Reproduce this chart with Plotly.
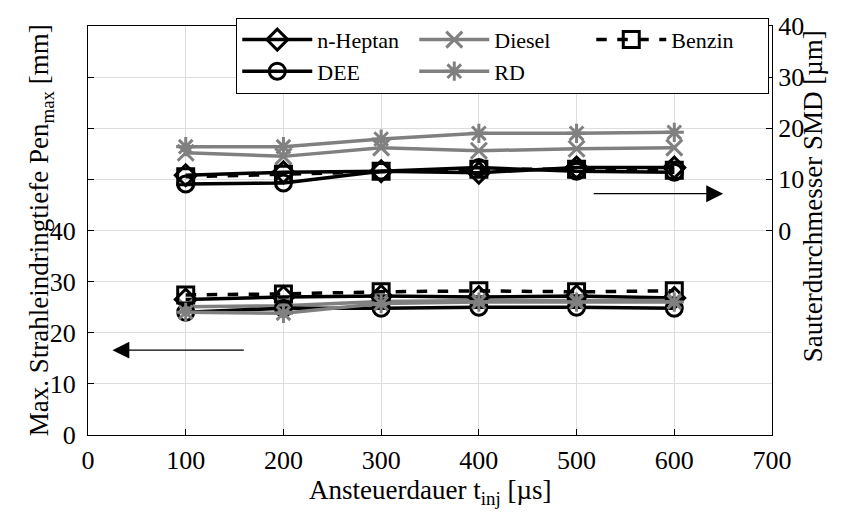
import plotly.graph_objects as go

t_inj = [100, 200, 300, 400, 500, 600]

# Penetration (left axis, mm)
pen_heptan = [26.5, 27.0, 27.2, 27.0, 27.2, 26.8]
pen_dee = [24.0, 24.8, 24.8, 25.0, 25.0, 24.8]
pen_diesel = [25.1, 25.3, 26.1, 26.3, 26.3, 26.3]
pen_rd = [24.0, 23.8, 25.7, 26.0, 26.0, 26.0]
pen_benzin = [27.4, 27.6, 28.0, 28.2, 28.0, 28.2]

# SMD (right axis, um)
smd_heptan = [10.8, 11.4, 11.6, 11.3, 12.3, 12.3]
smd_dee = [9.1, 9.3, 11.6, 12.3, 11.6, 11.4]
smd_diesel = [15.2, 14.5, 16.2, 15.6, 16.0, 16.2]
smd_rd = [16.4, 16.4, 17.9, 19.0, 19.0, 19.2]
smd_benzin = [10.5, 11.0, 11.6, 12.0, 12.0, 11.8]

left_ticks = [0, 10, 20, 30, 40, 50, 60, 70, 80]
left_ticktext = ["0", "10", "20", "30", "40", "", "", "", ""]
right_ticks = [0, 10, 20, 30, 40]
x_ticks = [0, 100, 200, 300, 400, 500, 600, 700]

BLACK = "#000000"
GRAY = "#808080"
FONT = "Liberation Serif, Times New Roman, serif"

series = [
    ("n-Heptan", pen_heptan, smd_heptan, BLACK, "diamond-open", "solid"),
    ("Diesel", pen_diesel, smd_diesel, GRAY, "x-thin-open", "solid"),
    ("Benzin", pen_benzin, smd_benzin, BLACK, "square-open", "dash"),
    ("DEE", pen_dee, smd_dee, BLACK, "circle-open", "solid"),
    ("RD", pen_rd, smd_rd, GRAY, "asterisk-open", "solid"),
]

fig = go.Figure()
for name, pen, smd, col, sym, dash in series:
    mk = dict(symbol=sym, size=16, color=col, line=dict(color=col, width=3))
    fig.add_trace(go.Scatter(x=t_inj, y=pen, name=name, mode="lines+markers",
                             line=dict(color=col, width=3.5, dash=dash),
                             marker=mk, legendgroup=name, showlegend=True,
                             yaxis="y"))
    fig.add_trace(go.Scatter(x=t_inj, y=smd, name=name, mode="lines+markers",
                             line=dict(color=col, width=3.5, dash=dash),
                             marker=mk, legendgroup=name, showlegend=False,
                             yaxis="y2"))

# direction arrows
fig.add_annotation(x=25, y=16.6, ax=161, ay=16.6, xref="x", yref="y",
                   axref="x", ayref="y", showarrow=True, arrowhead=2,
                   arrowsize=2.6, arrowwidth=1.3, arrowcolor=BLACK, text="")
fig.add_annotation(x=650, y=47.2, ax=516, ay=47.2, xref="x", yref="y",
                   axref="x", ayref="y", showarrow=True, arrowhead=2,
                   arrowsize=2.6, arrowwidth=1.3, arrowcolor=BLACK, text="")

# axis titles as annotations for exact placement
fig.add_annotation(text="Max. Strahleindringtiefe Pen<sub>max</sub> [mm]",
                   xref="paper", yref="paper", x=-0.097, y=0.5,
                   textangle=-90, showarrow=False,
                   font=dict(family=FONT, size=27, color=BLACK))
fig.add_annotation(text="Sauterdurchmesser SMD [µm]",
                   xref="paper", yref="paper", x=1.084, y=0.585,
                   textangle=-90, showarrow=False,
                   font=dict(family=FONT, size=27, color=BLACK))
fig.add_annotation(text="Ansteuerdauer t<sub>inj</sub> [µs]",
                   xref="paper", yref="paper", x=0.5, y=-0.14,
                   yanchor="middle", showarrow=False,
                   font=dict(family=FONT, size=27, color=BLACK))

fig.update_layout(
    width=844, height=521,
    margin=dict(l=88, r=72, t=15, b=86),
    paper_bgcolor="white", plot_bgcolor="white",
    font=dict(family=FONT, size=26, color=BLACK),
    xaxis=dict(range=[0, 700], tickvals=x_ticks, showgrid=True,
               gridcolor="#dddddd", gridwidth=1, zeroline=False,
               showline=True, linecolor=BLACK, linewidth=1.3, mirror=True,
               ticks="inside", ticklen=6, tickcolor=BLACK,
               ticklabelstandoff=2,
               tickfont=dict(family=FONT, size=26)),
    yaxis=dict(range=[0, 80], tickvals=left_ticks, ticktext=left_ticktext,
               showgrid=True, gridcolor="#dddddd", gridwidth=1, zeroline=False,
               showline=True, linecolor=BLACK, linewidth=1.3,
               ticks="inside", ticklen=6, tickcolor=BLACK,
               ticklabelstandoff=6,
               tickfont=dict(family=FONT, size=26)),
    yaxis2=dict(range=[-40, 40], tickvals=right_ticks, overlaying="y",
                side="right", showgrid=False, zeroline=False,
                showline=True, linecolor=BLACK, linewidth=1.3,
                ticks="inside", ticklen=6, tickcolor=BLACK,
                tickfont=dict(family=FONT, size=26)),
    legend=dict(orientation="h", x=0.996, y=1.02, xanchor="right",
                yanchor="top", bgcolor="white", bordercolor=BLACK,
                borderwidth=1, font=dict(family=FONT, size=22),
                entrywidth=92, entrywidthmode="pixels", itemwidth=70,
                tracegroupgap=0, traceorder="normal"),
    showlegend=True,
)

fig.write_html("out.html")
